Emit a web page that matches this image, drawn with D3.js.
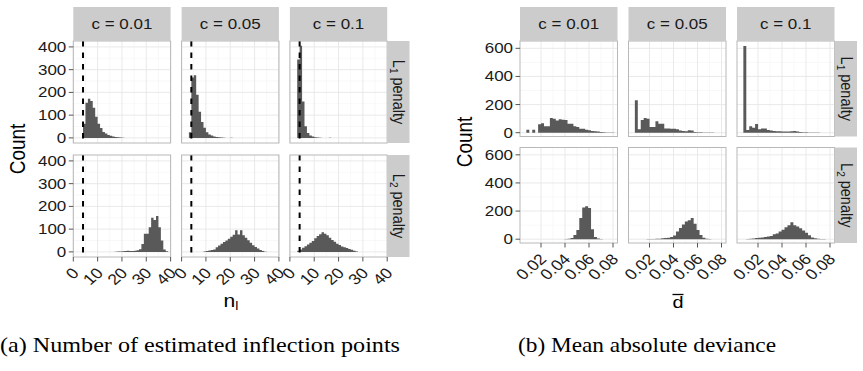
<!DOCTYPE html>
<html>
<head>
<meta charset="utf-8">
<script src="https://cdn.jsdelivr.net/npm/d3@7"></script>
<style>
  body { margin: 0; background: #fff; }
  svg { display: block; }
</style>
</head>
<body>
<svg id="chart" width="863" height="371"></svg>
<script>
// facet labels
const cLabels = ['c = 0.01', 'c = 0.05', 'c = 0.1'];
const penaltySub = ['1', '2'];

// (a) number of estimated inflection points, binwidth 1
const nlTicks = [0, 10, 20, 30, 40];
const nlCountTicks = [0, 100, 200, 300, 400];
const nlTrue = 4;
const nlFirstBin = [[4, 3, 3], [17, 9, 3]];
const nlL1c001 = [62, 155, 172, 162, 132, 93, 62, 44, 26, 19, 13, 9, 6, 4, 3, 2, 1];
const nlL1c005 = [25, 265, 275, 190, 115, 70, 45, 25, 15, 10, 6, 4, 3, 2, 1, 0, 0, 1];
const nlL1c01 = [345, 405, 160, 51, 22, 10, 6, 3, 2, 1, 0, 0, 0, 1];
const nlL2c001 = [1, 2, 2, 3, 4, 5, 4, 4, 5, 7, 12, 35, 80, 80, 108, 150, 140, 158, 108, 50, 10, 3];
const nlL2c005 = [2, 4, 6, 8, 11, 20, 28, 36, 44, 50, 58, 66, 75, 95, 76, 95, 73, 62, 51, 40, 29, 22, 15, 8, 4, 1];
const nlL2c01 = [5, 10, 18, 25, 32, 40, 48, 60, 70, 78, 86, 80, 73, 62, 52, 45, 36, 30, 24, 20, 17, 13, 9, 5, 2];

// (b) mean absolute deviance, 30 bins
const dTicks = [0.02, 0.04, 0.06, 0.08];
const dCountTicks = [0, 200, 400, 600];
const dBinStart = 0.0078;
const dBinWidth = 0.00245;
const dL1c001 = [21, 0, 21, 0, 60, 68, 45, 45, 104, 100, 87, 95, 92, 90, 64, 64, 45, 40, 28, 28, 21, 18, 12, 10, 8, 5, 3, 2, 1, 1];
const dL1c005 = [230, 25, 90, 105, 100, 40, 40, 82, 64, 64, 30, 30, 28, 28, 25, 15, 12, 10, 18, 15, 5, 4, 3, 2, 2, 1, 1, 0, 0, 0];
const dL1c01 = [616, 20, 45, 35, 62, 25, 30, 30, 20, 15, 12, 10, 10, 9, 8, 8, 10, 12, 8, 5, 4, 3, 2, 2, 1, 1, 0, 0, 0, 0];
const dL2c001 = [0, 0, 0, 0, 0, 0, 0, 0, 0, 0, 0, 0, 0, 1, 3, 8, 30, 65, 150, 225, 235, 222, 70, 15, 5, 2, 0, 0, 0, 0];
const dL2c005 = [0, 0, 0, 0, 1, 1, 2, 3, 4, 6, 8, 10, 16, 26, 55, 80, 105, 125, 135, 150, 110, 65, 30, 10, 3, 1, 0, 0, 0, 0];
const dL2c01 = [0, 2, 3, 5, 8, 10, 12, 15, 20, 22, 35, 40, 55, 68, 85, 100, 120, 100, 90, 78, 62, 45, 28, 12, 6, 3, 2, 1, 0, 0];

const SX = 1.17;           // text in the picture is a little wider than tall
const sans = "'Liberation Sans', Arial, Helvetica, sans-serif";
const svg = d3.select('#chart');

function midpoints(ticks, domain) {
  return d3.pairs(ticks).map(p => (p[0] + p[1]) / 2)
    .filter(v => v > domain[0] && v < domain[1]);
}

function drawFigure(f) {
  const g = svg.append('g');
  const x = d3.scaleLinear().domain(f.xDomain).range([0, f.pw]);
  const y = d3.scaleLinear().domain(f.yDomain).range([f.ph, 0]);
  const stripX = f.left + 3 * f.pw + 2 * f.gapX;

  // histogram outline as one stepped area, so bars have no seams
  const hist = d3.area()
    .x(d => x(d.x0))
    .y0(y(0))
    .y1(d => y(d.n))
    .curve(d3.curveStepAfter);

  f.rows.forEach((row, r) => {
    const py = f.top + r * (f.ph + f.gapY);

    row.forEach((counts, c) => {
      const px = f.left + c * (f.pw + f.gapX);
      const p = g.append('g').attr('transform', `translate(${px},${py})`);

      p.append('rect').attr('width', f.pw).attr('height', f.ph).attr('fill', '#fff');

      // minor then major grid
      p.selectAll('.vminor').data(midpoints(f.xTicks, f.xDomain)).join('line')
        .attr('x1', d => x(d)).attr('x2', d => x(d)).attr('y1', 0).attr('y2', f.ph)
        .attr('stroke', '#f5f5f5').attr('stroke-width', 0.7);
      p.selectAll('.hminor').data(midpoints(f.yTicks, f.yDomain)).join('line')
        .attr('y1', d => y(d)).attr('y2', d => y(d)).attr('x1', 0).attr('x2', f.pw)
        .attr('stroke', '#f5f5f5').attr('stroke-width', 0.7);
      p.selectAll('.vmajor').data(f.xTicks).join('line')
        .attr('x1', d => x(d)).attr('x2', d => x(d)).attr('y1', 0).attr('y2', f.ph)
        .attr('stroke', '#e6e6e6').attr('stroke-width', 0.9);
      p.selectAll('.hmajor').data(f.yTicks).join('line')
        .attr('y1', d => y(d)).attr('y2', d => y(d)).attr('x1', 0).attr('x2', f.pw)
        .attr('stroke', '#e6e6e6').attr('stroke-width', 0.9);

      // histogram
      const first = f.first(r, c);
      const bins = counts.map((n, i) => ({ x0: first + i * f.bw, n: n }));
      bins.push({ x0: first + counts.length * f.bw, n: 0 });
      p.append('path').datum(bins)
        .attr('d', hist)
        .attr('fill', '#595959');

      if (f.vline != null) {
        p.append('line')
          .attr('x1', x(f.vline)).attr('x2', x(f.vline))
          .attr('y1', 0).attr('y2', f.ph)
          .attr('stroke', '#000').attr('stroke-width', 2)
          .attr('stroke-dasharray', '5.5,6');
      }

      p.append('rect').attr('width', f.pw).attr('height', f.ph)
        .attr('fill', 'none').attr('stroke', '#b8b8b8').attr('stroke-width', 1);

      // top strips
      if (r === 0) {
        g.append('rect')
          .attr('x', px).attr('y', f.stripTop)
          .attr('width', f.pw).attr('height', f.top - f.stripTop)
          .attr('fill', '#cccccc');
        g.append('text')
          .attr('transform', `translate(${px + f.pw / 2},${(f.stripTop + f.top) / 2 + 5.2}) scale(${SX},1)`)
          .attr('text-anchor', 'middle')
          .attr('font-family', sans).attr('font-size', 14.5).attr('fill', '#1a1a1a')
          .text(cLabels[c]);
      }

      // y axis on first column
      if (c === 0) {
        const ya = g.append('g').attr('transform', `translate(${px},${py})`);
        ya.selectAll('line').data(f.yTicks).join('line')
          .attr('x1', -4.5).attr('x2', 0)
          .attr('y1', d => y(d)).attr('y2', d => y(d))
          .attr('stroke', '#555').attr('stroke-width', 1);
        ya.selectAll('text').data(f.yTicks).join('text')
          .attr('transform', d => `translate(-7,${y(d) + 5}) scale(${SX},1)`)
          .attr('text-anchor', 'end')
          .attr('font-family', sans).attr('font-size', 14.5).attr('fill', '#1a1a1a')
          .text(d => d);
      }

      // x axis on bottom row
      if (r === f.rows.length - 1) {
        const xa = g.append('g').attr('transform', `translate(${px},${py + f.ph})`);
        xa.selectAll('line').data(f.xTicks).join('line')
          .attr('x1', d => x(d)).attr('x2', d => x(d))
          .attr('y1', 0).attr('y2', 4.5)
          .attr('stroke', '#555').attr('stroke-width', 1);
        xa.selectAll('text').data(f.xTicks).join('text')
          .attr('transform', d => `translate(${x(d) + 6.5},${17}) scale(${SX},1) rotate(-45)`)
          .attr('text-anchor', 'end')
          .attr('font-family', sans).attr('font-size', 15).attr('fill', '#1a1a1a')
          .text(d => f.xFormat(d));
      }
    });

    // right strip
    g.append('rect')
      .attr('x', stripX).attr('y', py)
      .attr('width', f.sw).attr('height', f.ph)
      .attr('fill', '#cccccc');
    const st = g.append('text')
      .attr('transform', `translate(${stripX + f.sw / 2 - 5},${py + f.ph / 2}) scale(${SX},1) rotate(90)`)
      .attr('text-anchor', 'middle')
      .attr('font-family', sans).attr('font-size', 14.5).attr('fill', '#1a1a1a');
    st.append('tspan').text('L');
    st.append('tspan').attr('font-size', 10).attr('dy', 3).text(penaltySub[r]);
    st.append('tspan').attr('dy', -3).text(' penalty');
  });

  // y title
  const midY = f.top + (2 * f.ph + f.gapY) / 2;
  g.append('text')
    .attr('transform', `translate(${f.left - f.yTitleOff},${midY}) scale(${SX},1) rotate(-90)`)
    .attr('text-anchor', 'middle')
    .attr('font-family', sans).attr('font-size', 19).attr('fill', '#000')
    .text('Count');

  return { x: x, g: g };
}

// (a)
drawFigure({
  left: 73.3, top: 41, pw: 97.3, ph: 102, gapX: 11, gapY: 12, stripTop: 7, sw: 22.3,
  xDomain: [0, 40], yDomain: [-22.5, 426],
  xTicks: nlTicks, yTicks: nlCountTicks, xFormat: d => d,
  bw: 1, first: (r, c) => nlFirstBin[r][c], vline: nlTrue, yTitleOff: 48,
  rows: [[nlL1c001, nlL1c005, nlL1c01], [nlL2c001, nlL2c005, nlL2c01]]
});

// (b)
drawFigure({
  left: 520, top: 41, pw: 97.5, ph: 95.5, gapX: 11, gapY: 11, stripTop: 7, sw: 22.5,
  xDomain: [0.0025, 0.08375], yDomain: [-27, 652],
  xTicks: dTicks, yTicks: dCountTicks, xFormat: d3.format('.2f'),
  bw: dBinWidth, first: () => dBinStart, vline: null, yTitleOff: 48,
  rows: [[dL1c001, dL1c005, dL1c01], [dL2c001, dL2c005, dL2c01]]
});

// x titles
const nl = svg.append('text')
  .attr('transform', `translate(231,306.5) scale(${SX},1)`)
  .attr('text-anchor', 'middle')
  .attr('font-family', sans).attr('font-size', 18).attr('fill', '#000');
nl.append('tspan').text('n');
nl.append('tspan').attr('font-size', 12).attr('dy', 3.5).text('l');

svg.append('text')
  .attr('transform', `translate(678,308) scale(${SX},1)`)
  .attr('text-anchor', 'middle')
  .attr('font-family', sans).attr('font-size', 17).attr('fill', '#000')
  .text('d');
svg.append('line')
  .attr('x1', 672.5).attr('x2', 683.5).attr('y1', 294.5).attr('y2', 294.5)
  .attr('stroke', '#000').attr('stroke-width', 1.3);

// sub-figure captions
const serif = "'Liberation Serif', 'DejaVu Serif', serif";
svg.append('text')
  .attr('x', 0).attr('y', 352)
  .attr('font-family', serif).attr('font-size', 21).attr('fill', '#000')
  .attr('textLength', 400).attr('lengthAdjust', 'spacingAndGlyphs')
  .text('(a) Number of estimated inflection points');
svg.append('text')
  .attr('x', 518).attr('y', 352)
  .attr('font-family', serif).attr('font-size', 21).attr('fill', '#000')
  .attr('textLength', 258).attr('lengthAdjust', 'spacingAndGlyphs')
  .text('(b) Mean absolute deviance');
</script>
</body>
</html>
